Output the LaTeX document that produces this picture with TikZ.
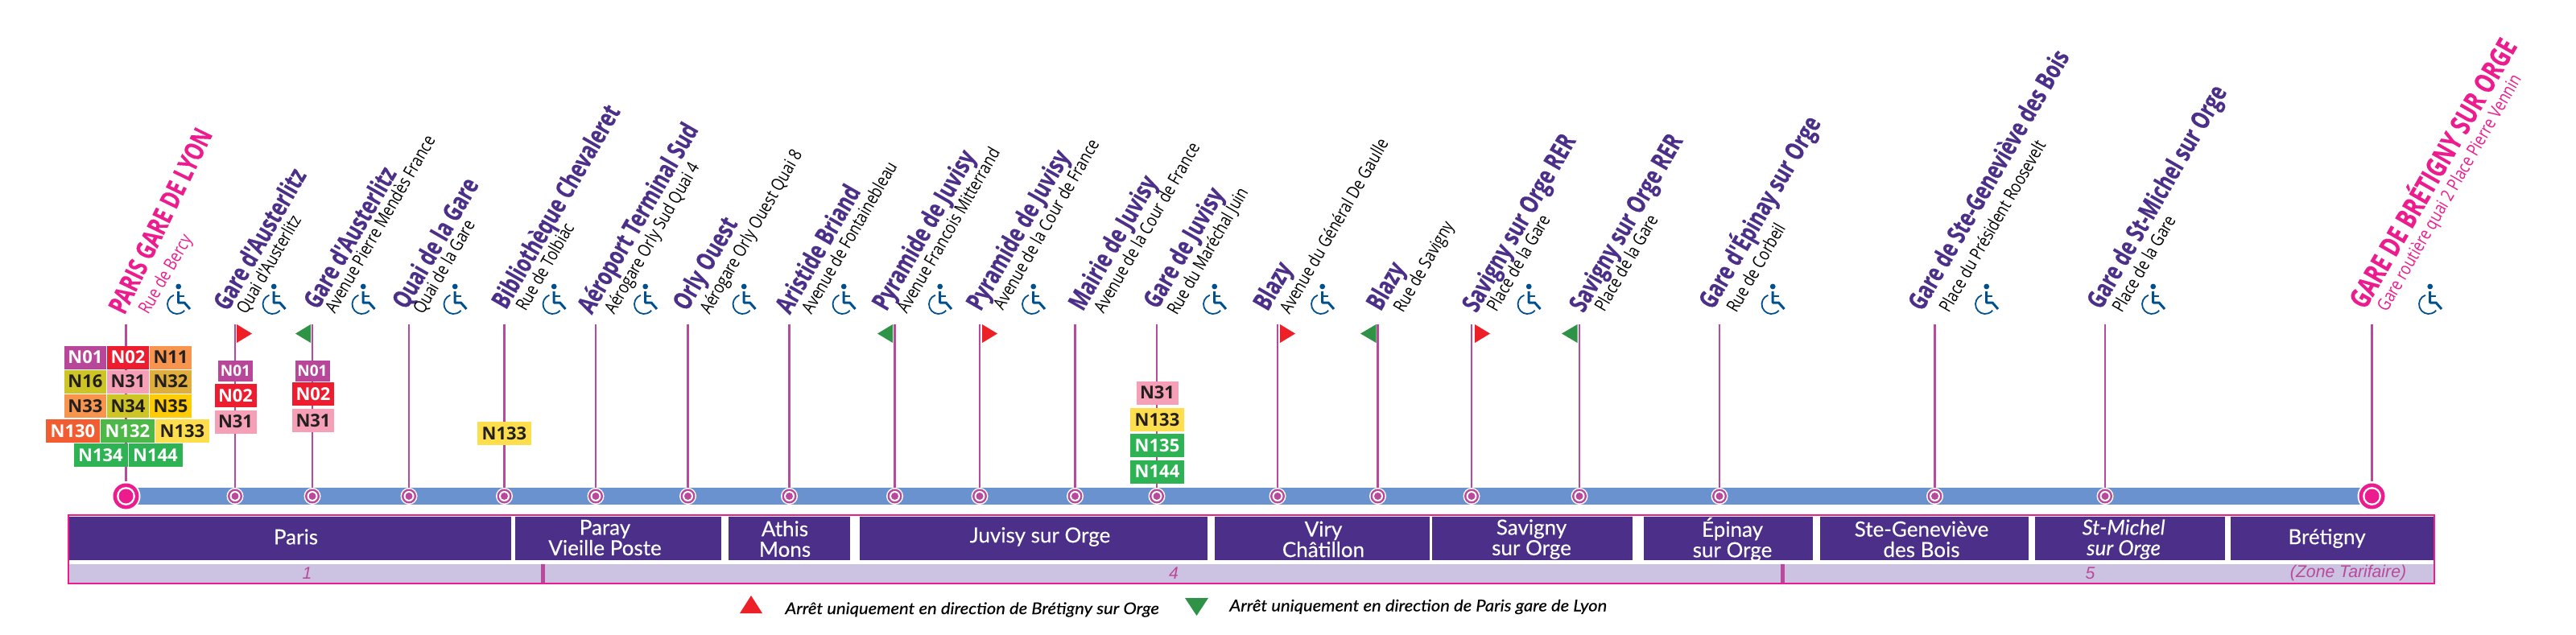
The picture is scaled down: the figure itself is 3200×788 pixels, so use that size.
\documentclass[tikz,border=0pt]{standalone}
\usepackage{fontspec}
\newfontfamily\namefont{Open Sans}[FakeStretch=.74,FakeBold=.4]
\newfontfamily\subfont{Open Sans}[FakeStretch=.82]
\newfontfamily\busfont{Open Sans}
\newfontfamily\bandfont{Lato}[FakeBold=.2]
\newfontfamily\legendfont{Lato}[FakeStretch=1.1,FakeBold=.3]
\newfontfamily\tarifont{Liberation Sans}
\definecolor{mauve}{HTML}{B94A9B}
\definecolor{rose}{HTML}{EC1C8E}
\definecolor{violet}{HTML}{4C2F89}
\definecolor{lilas}{HTML}{CCC3E2}
\definecolor{barblue}{HTML}{6A92CE}
\definecolor{flagred}{HTML}{ED2028}
\definecolor{flaggreen}{HTML}{2F9347}
\definecolor{access}{HTML}{00508F}
\definecolor{ink}{HTML}{231F20}
\definecolor{cN01}{HTML}{B8479A}
\definecolor{cN02}{HTML}{ED1C2E}
\definecolor{cN11}{HTML}{F7944D}
\definecolor{cN16}{HTML}{CDC525}
\definecolor{cN31}{HTML}{F5A0B7}
\definecolor{cN32}{HTML}{DFAE3C}
\definecolor{cN35}{HTML}{FFCB05}
\definecolor{cN130}{HTML}{F15D30}
\definecolor{cN132}{HTML}{4DB848}
\definecolor{cN133}{HTML}{FFDE4D}
\definecolor{cN134}{HTML}{2DB254}
\tikzset{
  stname/.style={rotate=60,anchor=base west,inner sep=0,text=violet,font=\namefont\bfseries\fontsize{16}{18}\selectfont},
  endname/.style={stname,text=rose,font=\namefont\bfseries\fontsize{16.5}{18}\selectfont},
  stsub/.style={rotate=60,anchor=base west,inner sep=0,text=black,font=\subfont\fontsize{11}{12}\selectfont},
  endsub/.style={stsub,text=rose},
  stem/.style={mauve,line width=1.3pt},
  stopsmall/.style={circle,inner sep=0,minimum size=10.5pt,fill=white,path picture={
    \fill[mauve](path picture bounding box.center) circle (4.5pt);
    \fill[white](path picture bounding box.center) circle (3.25pt);
    \fill[mauve](path picture bounding box.center) circle (2.25pt);}},
  stopbig/.style={circle,inner sep=0,minimum size=18pt,fill=white,path picture={
    \fill[rose](path picture bounding box.center) circle (8pt);
    \fill[white](path picture bounding box.center) circle (5.7pt);
    \fill[rose](path picture bounding box.center) circle (4.5pt);}},
  bus/.style={inner sep=0,minimum width=26pt,minimum height=14.5pt,font=\busfont\bfseries\fontsize{11}{13}\selectfont},
  buslong/.style={bus,minimum width=33.5pt},
  busshort/.style={bus,minimum width=21.5pt,minimum height=13pt,font=\busfont\bfseries\fontsize{9.5}{11}\selectfont},
  zone/.style={inner sep=0,text=white,align=center,font=\bandfont\fontsize{13}{12.75}\selectfont},
  tarif/.style={inner sep=0,text=mauve,font=\tarifont\itshape\fontsize{10.6}{12}\selectfont},
  legendtext/.style={anchor=base west,inner sep=0,text=black,font=\legendfont\itshape\fontsize{10}{12}\selectfont},
  accesspic/.pic={
    \fill[access] (14.7,4) circle (3.4);
    \draw[access,line width=1.5pt,line join=round] (14.5,10)--(14.5,24)--(22,24)--(29,32);
    \draw[access,line width=.7pt] (14.5,16)--(22,16);
    \draw[access,line width=.9pt] (13,26) ++(250:12) arc[start angle=250,end angle=40,radius=12];
  }
}
\begin{document}
\begin{tikzpicture}[x=.5pt,y=-.5pt]
\useasboundingbox (0,0) rectangle (3200,788);
\fill[barblue] (156,606) rectangle (2946,627);

\node[stopbig](s0) at (156.5,616.5){}; \coordinate(t0) at (156.5,403); \draw[stem](t0)--(s0);
\node[stopsmall](s1) at (292,616.5){}; \coordinate(t1) at (292,403); \draw[stem](t1)--(s1);
\node[stopsmall](s2) at (388,616.5){}; \coordinate(t2) at (388,403); \draw[stem](t2)--(s2);
\node[stopsmall](s3) at (508,616.5){}; \coordinate(t3) at (508,403); \draw[stem](t3)--(s3);
\node[stopsmall](s4) at (626.5,616.5){}; \coordinate(t4) at (626.5,403); \draw[stem](t4)--(s4);
\node[stopsmall](s5) at (740,616.5){}; \coordinate(t5) at (740,403); \draw[stem](t5)--(s5);
\node[stopsmall](s6) at (854.5,616.5){}; \coordinate(t6) at (854.5,403); \draw[stem](t6)--(s6);
\node[stopsmall](s7) at (980.5,616.5){}; \coordinate(t7) at (980.5,403); \draw[stem](t7)--(s7);
\node[stopsmall](s8) at (1111.5,616.5){}; \coordinate(t8) at (1111.5,403); \draw[stem](t8)--(s8);
\node[stopsmall](s9) at (1217,616.5){}; \coordinate(t9) at (1217,403); \draw[stem](t9)--(s9);
\node[stopsmall](s10) at (1335.5,616.5){}; \coordinate(t10) at (1335.5,403); \draw[stem](t10)--(s10);
\node[stopsmall](s11) at (1437,616.5){}; \coordinate(t11) at (1437,403); \draw[stem](t11)--(s11);
\node[stopsmall](s12) at (1587,616.5){}; \coordinate(t12) at (1587,403); \draw[stem](t12)--(s12);
\node[stopsmall](s13) at (1711.5,616.5){}; \coordinate(t13) at (1711.5,403); \draw[stem](t13)--(s13);
\node[stopsmall](s14) at (1828,616.5){}; \coordinate(t14) at (1828,403); \draw[stem](t14)--(s14);
\node[stopsmall](s15) at (1962,616.5){}; \coordinate(t15) at (1962,403); \draw[stem](t15)--(s15);
\node[stopsmall](s16) at (2136,616.5){}; \coordinate(t16) at (2136,403); \draw[stem](t16)--(s16);
\node[stopsmall](s17) at (2403.5,616.5){}; \coordinate(t17) at (2403.5,403); \draw[stem](t17)--(s17);
\node[stopsmall](s18) at (2615,616.5){}; \coordinate(t18) at (2615,403); \draw[stem](t18)--(s18);
\node[stopbig](s19) at (2946.5,616.5){}; \coordinate(t19) at (2946.5,403); \draw[stem](t19)--(s19);

\fill[flagred] (294,403)--(313,414.5)--(294,426)--cycle;
\fill[flaggreen] (386,403)--(367,414.5)--(386,426)--cycle;
\fill[flaggreen] (1109,403)--(1090,414.5)--(1109,426)--cycle;
\fill[flagred] (1220,403)--(1239,414.5)--(1220,426)--cycle;
\fill[flagred] (1590,403)--(1609,414.5)--(1590,426)--cycle;
\fill[flaggreen] (1709.5,403)--(1690,414.5)--(1709.5,426)--cycle;
\fill[flagred] (1832,403)--(1851,414.5)--(1832,426)--cycle;
\fill[flaggreen] (1959.5,403)--(1940,414.5)--(1959.5,426)--cycle;

\node[endname,rotate=4](n0) at (154.5,392.5){PARIS GARE DE LYON};
\node[endsub](a0) at (184,392){Rue de Bercy};
\node[stname](n1) at (283,388){Gare d'Austerlitz};
\node[stsub](a1) at (306,392){Quai d'Austerlitz};
\node[stname](n2) at (395,386){Gare d'Austerlitz};
\node[stsub](a2) at (416,391){Avenue Pierre Mendès France};
\node[stname](n3) at (505,386){Quai de la Gare};
\node[stsub](a3) at (525.5,392){Quai de la Gare};
\node[stname](n4) at (628.5,386){Bibliothèque Chevaleret};
\node[stsub](a4) at (653,388){Rue de Tolbiac};
\node[stname](n5) at (735,392){Aéroport Terminal Sud};
\node[stsub](a5) at (763,392){Aérogare Orly Sud Quai 4};
\node[stname](n6) at (853.5,388){Orly Ouest};
\node[stsub](a6) at (881.5,392){Aérogare Orly Ouest Quai 8};
\node[stname](n7) at (981,392){Aristide Briand};
\node[stsub](a7) at (1008,392){Avenue de Fontainebleau};
\node[stname](n8) at (1101,388){Pyramide de Juvisy};
\node[stsub](a8) at (1126.5,391){Avenue Francois Mitterrand};
\node[stname](n9) at (1218,388){Pyramide de Juvisy};
\node[stsub](a9) at (1246,387){Avenue de la Cour de France};
\node[stname](n10) at (1345,388){Mairie de Juvisy};
\node[stsub](a10) at (1371,391){Avenue de la Cour de France};
\node[stname](n11) at (1438,385.5){Gare de Juvisy};
\node[stsub](a11) at (1462,393){Rue du Maréchal Juin};
\node[stname](n12) at (1574.5,388){Blazy};
\node[stsub](a12) at (1602,392){Avenue du Général De Gaulle};
\node[stname](n13) at (1715,388){Blazy};
\node[stsub](a13) at (1743,390){Rue de Savigny};
\node[stname](n14) at (1834,390){Savigny sur Orge RER};
\node[stsub](a14) at (1859,389){Place de la Gare};
\node[stname](n15) at (1967,390){Savigny sur Orge RER};
\node[stsub](a15) at (1993,389){Place de la Gare};
\node[stname](n16) at (2128,386){Gare d'Épinay sur Orge};
\node[stsub](a16) at (2157,390){Rue de Corbeil};
\node[stname](n17) at (2388,388){Gare de Ste-Geneviève des Bois};
\node[stsub](a17) at (2421,390){Place du Président Roosevelt};
\node[stname](n18) at (2610,386){Gare de St-Michel sur Orge};
\node[stsub](a18) at (2636,390){Place de la Gare};
\node[endname,font=\namefont\bfseries\fontsize{17.5}{18}\selectfont](n19) at (2938,386){GARE DE BRÉTIGNY SUR ORGE};
\node[endsub](a19) at (2965,388.5){Gare routière quai 2 Place Pierre Vennin};

\pic at (207,352) {accesspic};
\pic at (325.5,352) {accesspic};
\pic at (436.5,352) {accesspic};
\pic at (550.5,352) {accesspic};
\pic at (673.5,352) {accesspic};
\pic at (787,352) {accesspic};
\pic at (909.5,352) {accesspic};
\pic at (1033.5,352) {accesspic};
\pic at (1153,352) {accesspic};
\pic at (1269,352) {accesspic};
\pic at (1494,352) {accesspic};
\pic at (1628,352) {accesspic};
\pic at (1884.5,352) {accesspic};
\pic at (2187.5,352) {accesspic};
\pic at (2453,352) {accesspic};
\pic at (2660,352) {accesspic};
\pic at (3004,352) {accesspic};

\node[bus,fill=cN01,text=white](b1) at (106,444){N01};
\node[bus,fill=cN02,text=white](b2) at (159,444){N02};
\node[bus,fill=cN11,text=ink](b3) at (212,444){N11};
\node[bus,fill=cN16,text=ink](b4) at (106,474){N16};
\node[bus,fill=cN31,text=ink](b5) at (159,474){N31};
\node[bus,fill=cN32,text=ink](b6) at (212,474){N32};
\node[bus,fill=cN11,text=ink](b7) at (106,504.5){N33};
\node[bus,fill=cN16,text=ink](b8) at (159,504.5){N34};
\node[bus,fill=cN35,text=ink](b9) at (212,504.5){N35};
\node[buslong,fill=cN130,text=white](b10) at (90.5,535.5){N130};
\node[buslong,fill=cN132,text=white](b11) at (158.5,535.5){N132};
\node[buslong,fill=cN133,text=ink](b12) at (226.5,535.5){N133};
\node[buslong,fill=cN134,text=white](b13) at (125,565.5){N134};
\node[buslong,fill=cN134,text=white](b14) at (193,565.5){N144};

\node[busshort,fill=cN01,text=white](c1) at (292.5,461){N01};
\node[bus,fill=cN02,text=white](c2) at (292.5,491.5){N02};
\node[bus,fill=cN31,text=ink](c3) at (292.5,524){N31};
\node[busshort,fill=cN01,text=white](d1) at (388,461){N01};
\node[bus,fill=cN02,text=white](d2) at (389,489.5){N02};
\node[bus,fill=cN31,text=ink](d3) at (389,522.5){N31};
\node[buslong,fill=cN133,text=ink](e1) at (626.5,538.5){N133};
\node[bus,fill=cN31,text=ink](f1) at (1437.5,488){N31};
\node[buslong,fill=cN133,text=ink](f2) at (1437.5,521.5){N133};
\node[buslong,fill=cN134,text=white](f3) at (1437.5,553.5){N135};
\node[buslong,fill=cN134,text=white](f4) at (1437.5,586){N144};

\draw[rose,line width=1.25pt,fill=white] (85,640) rectangle (3024,725);
\fill[violet] (86,642) rectangle (635,696);
\fill[violet] (640,642) rectangle (896,696);
\fill[violet] (904.5,642) rectangle (1056,696);
\fill[violet] (1068,642) rectangle (1500,696);
\fill[violet] (1509,642) rectangle (1776,696);
\fill[violet] (1779,642) rectangle (2028,696);
\fill[violet] (2042,642) rectangle (2252,696);
\fill[violet] (2261,642) rectangle (2520,696);
\fill[violet] (2528,642) rectangle (2764,696);
\fill[violet] (2771,642) rectangle (3023,696);
\fill[lilas] (86,700.5) rectangle (3023,723.5);
\draw[mauve,line width=2.5pt] (674,701)--(674,723.5);
\draw[mauve,line width=2.5pt] (2214.5,701)--(2214.5,723.5);

\node[zone](z1) at (367.5,667){Paris};
\node[zone](z2) at (751.5,668){Paray\\Vieille Poste};
\node[zone](z3) at (975,669.5){Athis\\Mons};
\node[zone](z4) at (1292,667){Juvisy sur Orge};
\node[zone](z5) at (1644,670){Viry\\Châtillon};
\node[zone](z6) at (1902.5,670){Savigny\\sur Orge};
\node[zone](z7) at (2152,670){Épinay\\sur Orge};
\node[zone](z8) at (2387,670){Ste-Geneviève\\des Bois};
\node[zone,font=\bandfont\itshape\fontsize{13}{12.75}\selectfont](z9) at (2638,670){St-Michel\\sur Orge};
\node[zone](z10) at (2890.5,669){Brétigny};

\node[tarif](y1) at (381.5,712){1};
\node[tarif](y4) at (1458,712){4};
\node[tarif](y5) at (2596.5,712){5};
\node[tarif](y6) at (2917,712){(Zone Tarifaire)};

\fill[flagred] (933,740)--(947,762)--(919,762)--cycle;
\node[legendtext](l1) at (975,763){Arrêt uniquement en direction de Brétigny sur Orge};
\fill[flaggreen] (1472,743)--(1501,743)--(1486.5,765)--cycle;
\node[legendtext](l2) at (1527,759.5){Arrêt uniquement en direction de Paris gare de Lyon};
\end{tikzpicture}
\end{document}
